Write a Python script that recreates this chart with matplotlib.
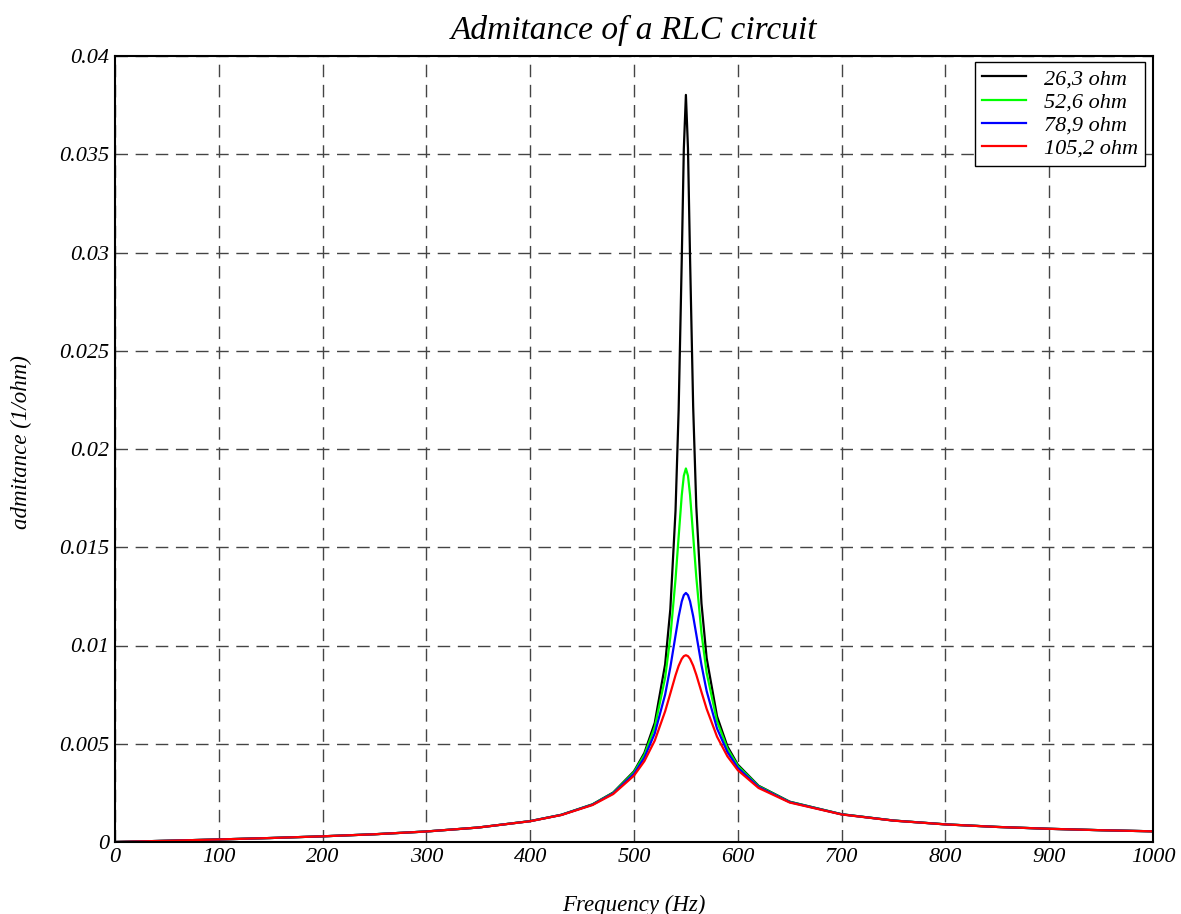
import matplotlib
matplotlib.use("Agg")
import matplotlib.pyplot as plt

# Frequency samples (Hz)
freq = [0, 50, 100, 150, 200, 250, 300, 350, 400, 430, 460, 480, 500, 510, 520,
        530, 535, 540, 543, 546, 548, 550, 552, 554, 557, 560, 565, 570, 580,
        590, 600, 620, 650, 700, 750, 800, 850, 900, 950, 1000]

# Admittance (1/ohm) for each resistance
y_263 = [0.0, 0.0000632, 0.0001297, 0.0002032, 0.000289, 0.000395, 0.0005356,
         0.0007374, 0.001064, 0.001386, 0.001917, 0.002520, 0.003597, 0.004532,
         0.006068, 0.009043, 0.011848, 0.01685, 0.02197, 0.02962, 0.03528,
         0.03802, 0.03530, 0.02971, 0.02215, 0.01709, 0.012143, 0.009355,
         0.006397, 0.004866, 0.003937, 0.002864, 0.002052, 0.001415, 0.0010938,
         0.0008988, 0.0007675, 0.0006726, 0.0006005, 0.0005438]
y_526 = [0.0, 0.0000632, 0.0001297, 0.0002032, 0.000289, 0.000395, 0.0005356,
         0.0007371, 0.001063, 0.001383, 0.001910, 0.002503, 0.003549, 0.004438,
         0.005848, 0.008362, 0.010426, 0.01337, 0.01553, 0.01764, 0.01864,
         0.01901, 0.01864, 0.01766, 0.01559, 0.01349, 0.010626, 0.008607,
         0.006141, 0.004751, 0.003876, 0.002840, 0.002043, 0.001412, 0.0010924,
         0.0008981, 0.0007670, 0.0006723, 0.0006002, 0.0005436]
y_789 = [0.0, 0.0000632, 0.0001297, 0.0002031, 0.000289, 0.000395, 0.0005354,
         0.0007365, 0.001061, 0.001379, 0.001898, 0.002477, 0.003474, 0.004294,
         0.005531, 0.007503, 0.008889, 0.010509, 0.011467, 0.012242, 0.012563,
         0.012674, 0.012564, 0.012248, 0.011493, 0.010566, 0.009011, 0.007679,
         0.005776, 0.004576, 0.003779, 0.002801, 0.002028, 0.001407, 0.0010902,
         0.0008969, 0.0007662, 0.0006717, 0.0005998, 0.0005433]
y_1052 = [0.0, 0.0000632, 0.0001296, 0.0002030, 0.000289, 0.000394, 0.0005351,
          0.0007358, 0.001058, 0.001372, 0.001881, 0.002441, 0.003377, 0.004115,
          0.005162, 0.006652, 0.007560, 0.008483, 0.008963, 0.009319, 0.009458,
          0.009506, 0.009458, 0.009322, 0.008976, 0.008513, 0.007634, 0.006773,
          0.005359, 0.004360, 0.003655, 0.002749, 0.002008, 0.001401, 0.0010870,
          0.0008951, 0.0007651, 0.0006710, 0.0005993, 0.0005429]

series_labels = ["26,3 ohm", "52,6 ohm", "78,9 ohm", "105,2 ohm"]
series_colors = ["#000000", "#00ff00", "#0000ff", "#ff0000"]

x_ticks = [0, 100, 200, 300, 400, 500, 600, 700, 800, 900, 1000]
x_ticklabels = ["0", "100", "200", "300", "400", "500", "600", "700", "800", "900", "1000"]
y_ticks = [0, 0.005, 0.01, 0.015, 0.02, 0.025, 0.03, 0.035, 0.04]
y_ticklabels = ["0", "0.005", "0.01", "0.015", "0.02", "0.025", "0.03", "0.035", "0.04"]

plt.rcParams['font.family'] = ['Liberation Serif', 'DejaVu Serif']
plt.rcParams['font.style'] = 'italic'

fig = plt.figure(figsize=(11.81, 9.14), dpi=100)
ax = fig.add_axes([115/1181, 1 - 842/914, (1153-115)/1181, (842-56)/914])

for ys, lab, col in zip([y_263, y_526, y_789, y_1052], series_labels, series_colors):
    ax.plot(freq, ys, color=col, lw=1.6, label=lab)

ax.set_xlim(0, 1000)
ax.set_ylim(0, 0.04)
ax.set_xticks(x_ticks)
ax.set_xticklabels(x_ticklabels, fontsize=16, style='italic')
ax.set_yticks(y_ticks)
ax.set_yticklabels(y_ticklabels, fontsize=16, style='italic')
ax.tick_params(length=0, pad=4)
ax.grid(True, color='#444444', linestyle=(0, (9.0, 5.5)), linewidth=1.0)
for s in ax.spines.values():
    s.set_linewidth(1.5)
    s.set_color('black')

ax.set_title("Admitance of a RLC circuit", fontsize=24, style='italic', pad=12)
ax.set_xlabel("Frequency (Hz)", fontsize=16.5, style='italic', labelpad=20)
ax.set_ylabel("admitance (1/ohm)", fontsize=16.5, style='italic')
ax.yaxis.set_label_coords(-0.080, 0.509)

leg = ax.legend(loc='upper right', bbox_to_anchor=(0.9923, 0.9924), fontsize=16,
                fancybox=False, framealpha=1, edgecolor='black', borderaxespad=0.0,
                handlelength=2.0, handletextpad=0.8, borderpad=0.3, labelspacing=0.12)
leg.get_frame().set_linewidth(1.0)
for t in leg.get_texts():
    t.set_fontstyle('italic')

fig.savefig("out.png", dpi=100)
